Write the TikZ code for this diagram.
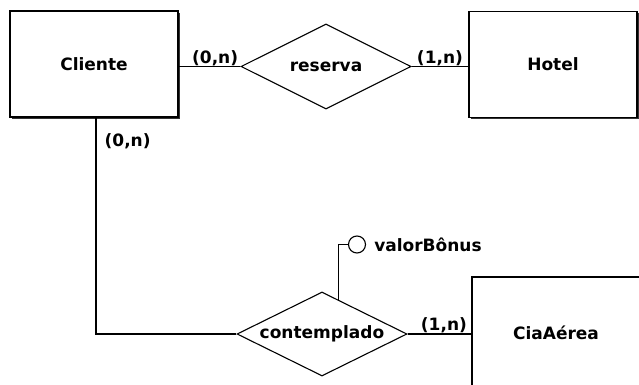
\documentclass[tikz,border=0pt]{standalone}
\usepackage{fontspec}
\setmainfont{DejaVu Sans}
\usepackage{tikz}
\usetikzlibrary{shapes.geometric,positioning,calc,shadows}

\tikzset{
  entity/.style={draw, line width=1.3pt, fill=white, minimum width=168pt, minimum height=106pt, inner sep=0pt,
    general shadow={fill=black!80, shadow xshift=1.8pt, shadow yshift=-1.8pt}},
  relation/.style={draw, diamond, line width=1.1pt, fill=white, aspect=2, inner sep=0pt,
    minimum width=170pt, minimum height=85pt},
  card/.style={inner sep=0pt, anchor=south},
  attrib/.style={draw, circle, line width=1.1pt, minimum size=17pt, inner sep=0pt},
  link/.style={line width=1.3pt}
}

\begin{document}
\begin{tikzpicture}[x=1pt, y=-1pt, font=\fontsize{17}{20}\selectfont\bfseries]
  \useasboundingbox (0,0) rectangle (639,385);
  \node[entity] (cliente) at (94,64) {Cliente};
  \node[entity] (hotel) at (553,64.5) {Hotel};
  \node[entity, minimum height=112pt] (ciaaerea) at (556,333) {CiaAérea};
  \node[relation] (reserva) at (326,66.5) {reserva};
  \node[relation, minimum height=84pt] (contemplado) at (322,334) {contemplado};
  \node[attrib] (bonus) at (357,244.5) {};
  \node[inner sep=0pt, right=8pt of bonus] (bonustxt) {valorBônus};

  \draw[link] (reserva.west -| cliente.east) -- node[card, pos=0.59] (card1) {(0,n)} (reserva.west);
  \draw[link] (reserva.east) -- node[card, pos=0.5] (card2) {(1,n)} (reserva.east -| hotel.west);
  \draw[link] ($(cliente.south)+(2,0)$) |- node[card, anchor=north west, pos=0.035, xshift=8pt] (card3) {(0,n)} (contemplado.west);
  \draw[link] (contemplado.east) -- node[card, pos=0.57] (card4) {(1,n)} (contemplado.east -| ciaaerea.west);
  \draw[link] (bonus.west) -| ($(contemplado.north)!0.19!(contemplado.east)$);
\end{tikzpicture}
\end{document}
